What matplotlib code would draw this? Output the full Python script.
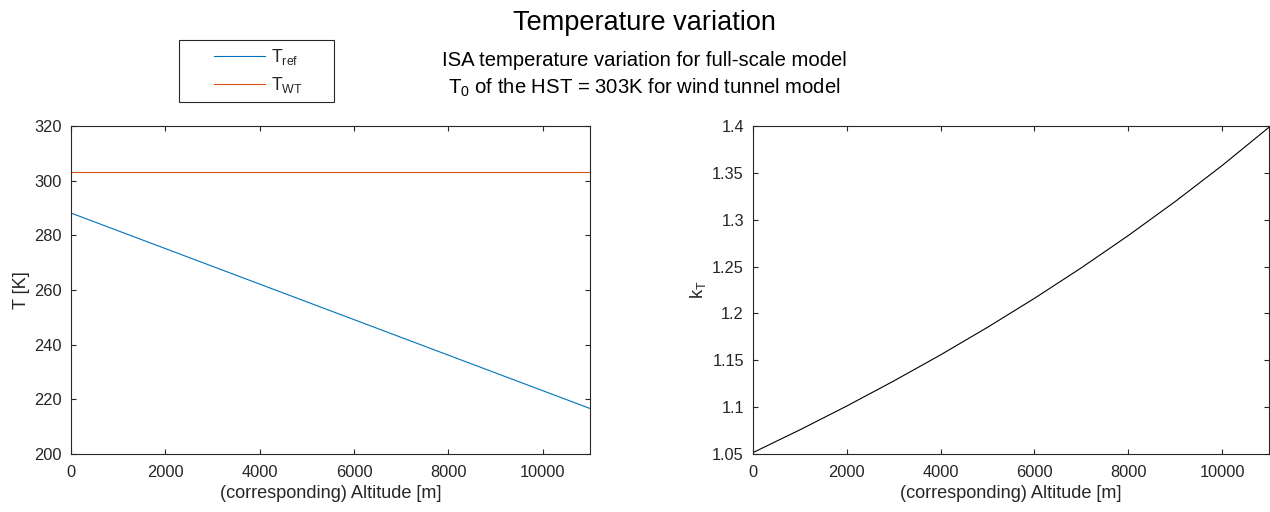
import numpy as np
import matplotlib
matplotlib.use("Agg")
import matplotlib.pyplot as plt
from matplotlib.legend_handler import HandlerLine2D

plt.rcParams["font.family"] = ["Liberation Sans", "DejaVu Sans"]
plt.rcParams["mathtext.fontset"] = "custom"
plt.rcParams["mathtext.rm"] = "Liberation Sans"
plt.rcParams["mathtext.it"] = "Liberation Sans"
plt.rcParams["mathtext.default"] = "regular"

# altitude samples [m]
altitude = [0, 1000, 2000, 3000, 4000, 5000, 6000, 7000, 8000, 9000, 10000, 11000]
# ISA reference temperature [K]
t_ref = [288.15, 281.65, 275.15, 268.65, 262.15, 255.65, 249.15, 242.65,
         236.15, 229.65, 223.15, 216.65]
# wind tunnel stagnation temperature [K]
t_wt = [303, 303, 303, 303, 303, 303, 303, 303, 303, 303, 303, 303]
# temperature ratio k_T
k_t = [1.0515, 1.0758, 1.1012, 1.1279, 1.1558, 1.1852, 1.2161, 1.2487,
       1.2831, 1.3194, 1.3578, 1.3986]

axis_col = "#262626"
blue = "#0072BD"
orange = "#D95319"

TICK_FS = 11.8
LABEL_FS = 13.1

fig = plt.figure(figsize=(12.7, 5.12), dpi=100)
ax1 = fig.add_axes([71 / 1270, 58 / 512, 519 / 1270, 328 / 512])
ax2 = fig.add_axes([753 / 1270, 58 / 512, 516 / 1270, 328 / 512])


def style(ax):
    for s in ax.spines.values():
        s.set_color(axis_col)
        s.set_linewidth(0.8)
    ax.tick_params(direction="in", top=True, right=True, length=3.7,
                   width=0.8, color=axis_col, labelcolor=axis_col,
                   labelsize=TICK_FS)
    ax.tick_params(axis="y", pad=6.5)
    ax.tick_params(axis="x", pad=8)
    ax.set_xlim(0, 11000)
    ax.set_xticks([0, 2000, 4000, 6000, 8000, 10000])
    ax.set_xlabel("(corresponding) Altitude [m]", fontsize=LABEL_FS,
                  color=axis_col, labelpad=3.5)


l1, = ax1.plot(altitude, t_ref, color=blue, lw=0.8)
l2, = ax1.plot(altitude, t_wt, color=orange, lw=0.8)
style(ax1)
ax1.set_ylim(200, 320)
ax1.set_yticks(np.arange(200, 321, 20))
ax1.set_ylabel("T [K]", fontsize=LABEL_FS, color=axis_col, labelpad=3)

ax2.plot(altitude, k_t, color="black", lw=0.8)
style(ax2)
ax2.set_ylim(1.05, 1.4)
kt_ticks = [1.05, 1.1, 1.15, 1.2, 1.25, 1.3, 1.35, 1.4]
ax2.set_yticks(kt_ticks)
ax2.set_yticklabels([f"{v:g}" for v in kt_ticks])
ax2.set_ylabel("$k_T$", fontsize=LABEL_FS, color=axis_col, labelpad=3)

# figure titles
cx = 644 / 1270
fig.text(cx, 1 - 30 / 512, "Temperature variation", ha="center",
         va="baseline", fontsize=19.5)
fig.text(cx, 1 - 66 / 512, "ISA temperature variation for full-scale model",
         ha="center", va="baseline", fontsize=14.6)
fig.text(cx, 1 - 94 / 512, "$T_0$ of the HST = 303K for wind tunnel model",
         ha="center", va="baseline", fontsize=14.6)

leg_fs = 12.7
leg = fig.legend([l1, l2], ["$T_{ref}$", "$T_{WT}$"], loc="upper left",
                 bbox_to_anchor=(179 / 1270, 1 - 40 / 512, 155 / 1270, 0),
                 mode="expand", borderaxespad=0,
                 fancybox=False, edgecolor=axis_col, fontsize=leg_fs,
                 handlelength=4.5, handletextpad=0.3, borderpad=0.4,
                 labelspacing=0.45, framealpha=1,
                 handler_map={l1: HandlerLine2D(xpad=1.6),
                              l2: HandlerLine2D(xpad=1.6)})
leg.get_frame().set_linewidth(0.8)
for t in leg.get_texts():
    t.set_color(axis_col)

fig.savefig("out.png", dpi=100)
